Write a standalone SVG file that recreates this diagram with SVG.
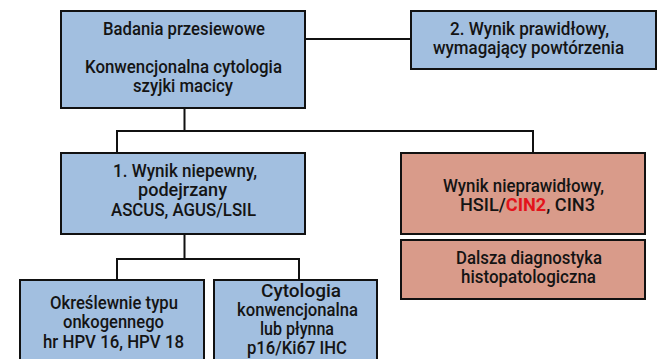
<svg xmlns="http://www.w3.org/2000/svg" width="663" height="359" viewBox="0 0 663 359">
<style>
.b{fill:#a2bfe0;stroke:#111;stroke-width:2}
.r{fill:#d99b8a;stroke:#111;stroke-width:2}
.s{fill:#9a9a9a}
text{font-family:Roboto,"Liberation Sans",sans-serif;font-size:17.5px;font-weight:500;fill:#141414;text-anchor:middle}
.c{fill:none;stroke:#111;stroke-width:2}
.red{fill:#e3131b;font-weight:bold}
</style>
<g id="connectors">
<path class="c" d="M305 39H411"/>
<path class="c" d="M184.5 108V131M117 153V131H533V153"/>
<path class="c" d="M184.5 234V259M117 280V259H299V280"/>
</g>
<g id="n-screening">
<rect class="s" x="62" y="12" width="244" height="97"/>
<rect class="b" x="61" y="11" width="244" height="97"/>
<text x="184" y="35" textLength="162" lengthAdjust="spacingAndGlyphs">Badania przesiewowe</text>
<text x="183.5" y="73" textLength="197" lengthAdjust="spacingAndGlyphs">Konwencjonalna cytologia</text>
<text x="183" y="92" textLength="100" lengthAdjust="spacingAndGlyphs">szyjki macicy</text>
</g>
<g id="n-normal">
<rect class="s" x="412" y="12" width="245" height="58"/>
<rect class="b" x="411" y="11" width="245" height="58"/>
<text x="529.5" y="35" textLength="159" lengthAdjust="spacingAndGlyphs">2. Wynik prawidłowy,</text>
<text x="528.5" y="54" textLength="191" lengthAdjust="spacingAndGlyphs">wymagający powtórzenia</text>
</g>
<g id="n-uncertain">
<rect class="s" x="62" y="154" width="244" height="81"/>
<rect class="b" x="61" y="153" width="244" height="81"/>
<text x="185" y="177" textLength="144" lengthAdjust="spacingAndGlyphs">1. Wynik niepewny,</text>
<text x="182.5" y="196" textLength="89" lengthAdjust="spacingAndGlyphs">podejrzany</text>
<text x="183.5" y="216" textLength="145" lengthAdjust="spacingAndGlyphs">ASCUS, AGUS/LSIL</text>
</g>
<g id="n-abnormal">
<rect class="s" x="402" y="154" width="244" height="81"/>
<rect class="r" x="401" y="153" width="244" height="81"/>
<text x="523.5" y="192" textLength="161" lengthAdjust="spacingAndGlyphs">Wynik nieprawidłowy,</text>
<text x="527.5" y="211" textLength="135" lengthAdjust="spacingAndGlyphs">HSIL/<tspan class="red">CIN2</tspan>, CIN3</text>
</g>
<g id="n-histo">
<rect class="s" x="402" y="241" width="244" height="59"/>
<rect class="r" x="401" y="240" width="244" height="59"/>
<text x="529" y="264" textLength="146" lengthAdjust="spacingAndGlyphs">Dalsza diagnostyka</text>
<text x="528.5" y="283" textLength="135" lengthAdjust="spacingAndGlyphs">histopatologiczna</text>
</g>
<g id="n-hpv">
<rect class="s" x="21" y="281" width="184" height="95"/>
<rect class="b" x="20" y="280" width="184" height="95"/>
<text x="114" y="309" textLength="128" lengthAdjust="spacingAndGlyphs">Określewnie typu</text>
<text x="113.5" y="328" textLength="101" lengthAdjust="spacingAndGlyphs">onkogennego</text>
<text x="113.5" y="348" textLength="141" lengthAdjust="spacingAndGlyphs">hr HPV 16, HPV 18</text>
</g>
<g id="n-cyto">
<rect class="s" x="215" y="281" width="163" height="95"/>
<rect class="b" x="214" y="280" width="163" height="95"/>
<text x="301" y="297" textLength="80" lengthAdjust="spacingAndGlyphs">Cytologia</text>
<text x="297.5" y="316" textLength="121" lengthAdjust="spacingAndGlyphs">konwencjonalna</text>
<text x="297" y="335" textLength="74" lengthAdjust="spacingAndGlyphs">lub płynna</text>
<text x="297" y="354" textLength="100" lengthAdjust="spacingAndGlyphs">p16/Ki67 IHC</text>
</g>
</svg>
